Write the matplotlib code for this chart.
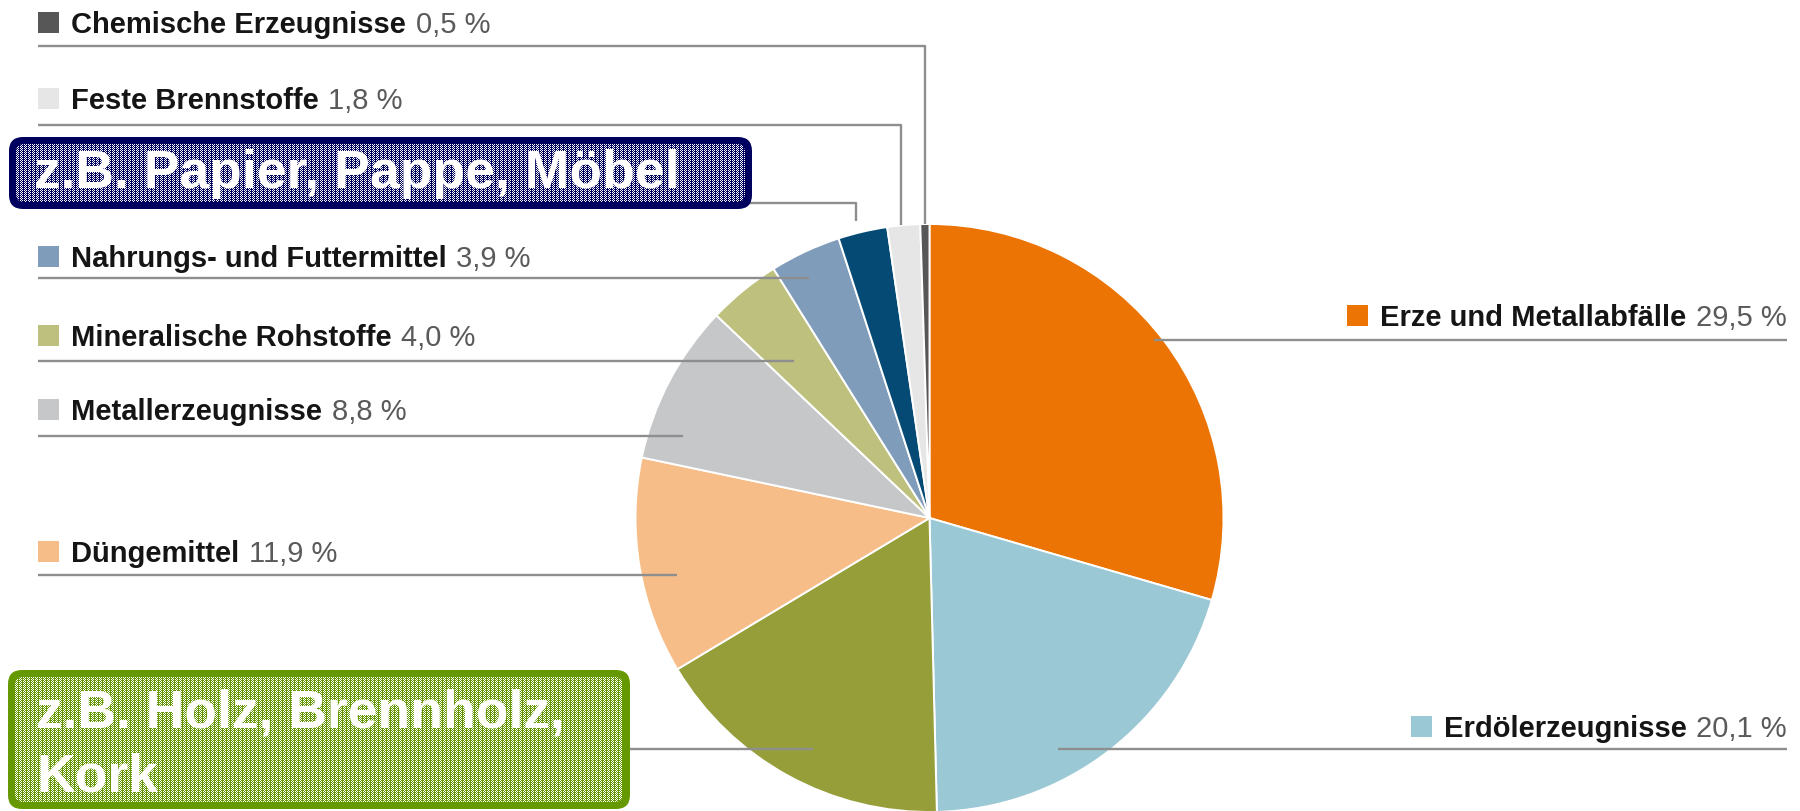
import numpy as np
import matplotlib
matplotlib.use("Agg")
import matplotlib.pyplot as plt
from matplotlib.patches import Rectangle, FancyBboxPatch

# -----------------------------------------------------------------
# Data: shares of goods groups (percent), clockwise from 12 o'clock
# -----------------------------------------------------------------
categories = [
    "Erze und Metallabfälle",
    "Erdölerzeugnisse",
    "Land- und forstwirtschaftliche Erzeugnisse",
    "Düngemittel",
    "Metallerzeugnisse",
    "Mineralische Rohstoffe",
    "Nahrungs- und Futtermittel",
    "Papier, Pappe und Waren daraus",
    "Feste Brennstoffe",
    "Chemische Erzeugnisse",
]
shares = [29.5, 20.1, 16.8, 11.9, 8.8, 4.0, 3.9, 2.7, 1.8, 0.5]
pct_labels = ["29,5 %", "20,1 %", "16,8 %", "11,9 %", "8,8 %",
              "4,0 %", "3,9 %", "2,7 %", "1,8 %", "0,5 %"]
colors = ["#ec7404", "#9ac8d4", "#969e3a", "#f6bd88", "#c6c7c9",
          "#bec17e", "#7f9dbb", "#044a75", "#e6e6e6", "#575757"]

# labels hidden behind the overlay boxes
hidden = {2, 7}

box_texts = [["z.B. Papier, Pappe, Möbel"], ["z.B. Holz, Brennholz,", "Kork"]]

# -----------------------------------------------------------------
# Layout (image pixel coordinates, y downwards)
# -----------------------------------------------------------------
W, H = 1800, 812
cx, cy, R = 929.5, 519, 294
RIGHT_END = 1787
# per category: (side, text baseline y, leader polyline)
layout = {
    0: ("right", 326, [(1154, 341), (1787, 341)]),
    1: ("right", 737, [(1058, 750), (1787, 750)]),
    2: ("left", 736, [(38, 750), (813, 750)]),
    3: ("left", 562, [(38, 576), (677, 576)]),
    4: ("left", 420, [(38, 437), (683, 437)]),
    5: ("left", 346, [(38, 362), (794, 362)]),
    6: ("left", 267, [(38, 279), (809, 279)]),
    7: ("left", 190, [(38, 204), (856, 204), (856, 222)]),
    8: ("left", 109, [(38, 126), (901, 126), (901, 226)]),
    9: ("left", 33, [(38, 47), (925, 47), (925, 225)]),
}

FONT = ["Liberation Sans", "DejaVu Sans"]
LINE_COLOR = "#8e8e8e"
LABEL_SIZE = 21
SQ = 21

fig = plt.figure(figsize=(W / 100, H / 100), dpi=100)
ax = fig.add_axes([0, 0, 1, 1])

ax.pie(shares, colors=colors, startangle=-90, counterclock=True,
       center=(cx, cy), radius=R,
       wedgeprops=dict(edgecolor="white", linewidth=1.4))

ax.set_xlim(0, W)
ax.set_ylim(H, 0)
ax.set_aspect("auto")
ax.axis("off")

# leader lines and labels
right_names = []
for i, name in enumerate(categories):
    side, base_y, pts = layout[i]
    xs, ys = zip(*pts)
    ax.plot(xs, ys, color=LINE_COLOR, lw=1.7, solid_capstyle="butt", zorder=3)
    if i in hidden:
        continue
    if side == "left":
        ax.add_patch(Rectangle((38, base_y - 20), SQ, SQ, color=colors[i],
                               lw=0, zorder=3))
        t = ax.text(71, base_y, name, fontsize=LABEL_SIZE, fontweight="bold",
                    family=FONT, color="#151515", va="baseline", ha="left",
                    zorder=4)
        ax.annotate(pct_labels[i], xy=(1, 0), xycoords=t, xytext=(7, 0),
                    textcoords="offset points", fontsize=LABEL_SIZE,
                    family=FONT, color="#5a5a5a", va="bottom", ha="left",
                    zorder=4)
    else:
        p = ax.text(RIGHT_END, base_y, pct_labels[i], fontsize=LABEL_SIZE,
                    family=FONT, color="#5a5a5a", va="baseline", ha="right",
                    zorder=4)
        t = ax.annotate(name, xy=(0, 0), xycoords=p, xytext=(-7, 0),
                        textcoords="offset points", fontsize=LABEL_SIZE,
                        fontweight="bold", family=FONT, color="#151515",
                        va="bottom", ha="right", zorder=4)
        right_names.append((i, base_y, t))

# colour squares in front of the right-hand labels
fig.canvas.draw()
renderer = fig.canvas.get_renderer()
for i, base_y, t in right_names:
    bb = t.get_window_extent(renderer)
    x_left = ax.transData.inverted().transform((bb.x0, bb.y0))[0]
    ax.add_patch(Rectangle((x_left - 12 - SQ, base_y - 20), SQ, SQ,
                           color=colors[i], lw=0, zorder=3))


def overlay_box(x0, y0, x1, y1, edge, lines, text_x, baselines):
    outer = FancyBboxPatch((x0, y0), x1 - x0, y1 - y0,
                           boxstyle="round,pad=0,rounding_size=14",
                           facecolor=edge, edgecolor="none", zorder=5)
    ax.add_patch(outer)
    m = 7
    inner = FancyBboxPatch((x0 + m, y0 + m), x1 - x0 - 2 * m, y1 - y0 - 2 * m,
                           boxstyle="round,pad=0,rounding_size=8",
                           facecolor="none", edgecolor="none", zorder=6)
    ax.add_patch(inner)
    w = int(x1 - x0 - 2 * m)
    h = int(y1 - y0 - 2 * m)
    yy, xx = np.indices((h, w))
    # dithered fill: pixel checker, every 4th column kept solid
    white = ((xx + yy) % 2 == 0) & (xx % 4 != 3)
    rgb = np.array([matplotlib.colors.to_rgb(edge), (1, 1, 1)])
    img = rgb[white.astype(int)]
    im = ax.imshow(img, extent=(x0 + m, x0 + m + w, y0 + m + h, y0 + m),
                   interpolation="nearest", zorder=6)
    im.set_clip_path(inner)
    for line, by in zip(lines, baselines):
        ax.text(text_x, by, line, fontsize=38.5, fontweight="bold",
                family=FONT, color="white", va="baseline", ha="left",
                zorder=7)


overlay_box(9, 138, 752, 210, "#00005e", box_texts[0], 34, [188])
overlay_box(8, 671, 630, 810, "#669900", box_texts[1], 36, [728, 792])

ax.set_xlim(0, W)
ax.set_ylim(H, 0)

fig.savefig("out.png", dpi=100)
